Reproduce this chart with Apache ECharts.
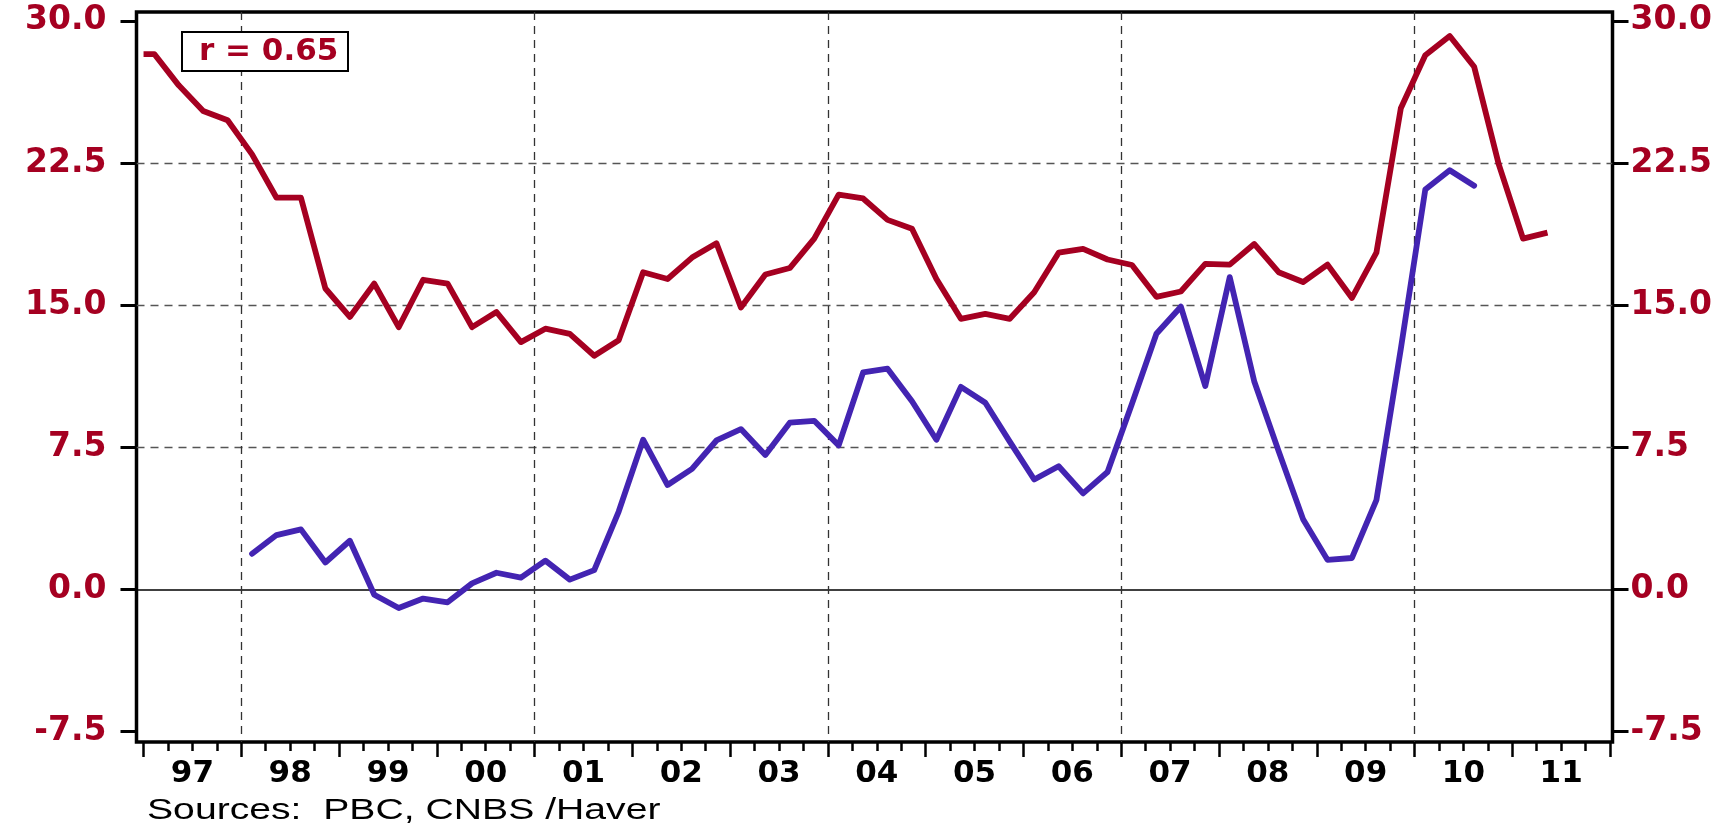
<!DOCTYPE html>
<html><head><meta charset="utf-8">
<script src="https://cdn.jsdelivr.net/npm/echarts@6/dist/echarts.min.js"></script>
<style>html,body{margin:0;padding:0;background:#fff}#c{width:1735px;height:830px}</style>
</head><body><div id="c"></div>
<script>
// ---- data (quarterly observations) ----
const yearLabels = ['97','98','99','00','01','02','03','04','05','06','07','08','09','10','11'];
const firstYear = 1997, lastYear = 2012;
const yTicks = [-7.5, 0, 7.5, 15, 22.5, 30];
const yDashed = [7.5, 15, 22.5];
const gridYears = [1998, 2001, 2004, 2007, 2010];

const redStartYear = 1997;     // first quarterly value: 1997Q1
const redOpening = 28.25;      // value at the very start of 1997
const redValues = [28.25, 26.6, 25.25, 24.76, 22.96, 20.67, 20.67, 15.88, 14.38, 16.14,
  13.84, 16.34, 16.14, 13.84, 14.64, 13.05, 13.76, 13.49, 12.33, 13.15,
  16.74, 16.38, 17.51, 18.27, 14.88, 16.62, 16.96, 18.51, 20.83, 20.63,
  19.5, 19.03, 16.38, 14.28, 14.54, 14.28, 15.68, 17.77, 17.97, 17.41,
  17.12, 15.44, 15.72, 17.18, 17.14, 18.23, 16.74, 16.22, 17.14, 15.38,
  17.77, 25.39, 28.19, 29.2, 27.58, 22.46, 18.51, 18.83];

const blueStartYear = 1998;    // first quarterly value: 1998Q1
const blueValues = [1.88, 2.87, 3.17, 1.42, 2.57, -0.28, -0.98, -0.48, -0.68, 0.32,
  0.88, 0.62, 1.52, 0.52, 1.02, 4.11, 7.9, 5.51, 6.36, 7.86,
  8.46, 7.1, 8.8, 8.9, 7.6, 11.45, 11.65, 9.93, 7.9, 10.69,
  9.85, 7.8, 5.8, 6.5, 5.07, 6.2, 9.8, 13.49, 14.92, 10.73,
  16.48, 10.99, 7.3, 3.71, 1.56, 1.66, 4.71, 12.7, 21.1, 22.12, 21.3];

const corrText = 'r = 0.65';
const sourceText = 'Sources:  PBC, CNBS /Haver';

// ---- helpers ----
const RED = '#A50021', BLUE = '#4324B2';
function qTime(startYear, i) { return startYear + i / 4 + 0.11; }
const redData = [[redStartYear, redOpening]].concat(redValues.map((v, i) => [qTime(redStartYear, i), v]));
const blueData = blueValues.map((v, i) => [qTime(blueStartYear, i), v]);

const quarterTicks = [], yearTicks = [], yearLabelPos = [];
for (let y = firstYear; y <= lastYear; y++) {
  yearTicks.push(y);
  if (y < lastYear) {
    for (let q = 0; q < 4; q++) quarterTicks.push(y + q / 4);
    yearLabelPos.push(y + 0.5);
  }
}

const X_MIN = 1996.928, X_MAX = 2012.025, Y_MIN = -8.05, Y_MAX = 30.47;
const yLabelFont = { fontFamily: 'DejaVu Sans', fontWeight: 'bold', fontSize: 33 };
const xLabelFont = { fontFamily: 'DejaVu Sans', fontWeight: 'bold', fontSize: 31 };

function xBase(extra) {
  return Object.assign({
    type: 'value', min: X_MIN, max: X_MAX, position: 'bottom', gridIndex: 0,
    axisLine: { show: false, onZero: false },
    axisTick: { show: false }, axisLabel: { show: false }, splitLine: { show: false }
  }, extra);
}
function yBase(extra) {
  return Object.assign({
    type: 'value', min: Y_MIN, max: Y_MAX, position: 'left', gridIndex: 0,
    axisLine: { show: false, onZero: false },
    axisTick: { show: false }, axisLabel: { show: false }, splitLine: { show: false }
  }, extra);
}

const chart = echarts.init(document.getElementById('c'), null, { renderer: 'canvas' });
chart.setOption({
  animation: false,
  backgroundColor: '#fff',
  title: {
    text: corrText, left: 182, top: 32,
    padding: [4, 10, 4, 17], borderColor: '#000', borderWidth: 2, backgroundColor: '#fff',
    textStyle: { color: RED, fontFamily: 'DejaVu Sans', fontWeight: 'bold', fontSize: 31 }
  },
  grid: [{ left: 136.5, top: 12, width: 1476, height: 730, show: true,
    borderColor: '#000', borderWidth: 3.5, backgroundColor: 'transparent', containLabel: false }],
  xAxis: [
    xBase({}),
    xBase({ axisTick: { show: true, customValues: quarterTicks, length: 9, lineStyle: { color: '#000', width: 2.5 } } }),
    xBase({
      axisTick: { show: true, customValues: yearTicks, length: 15, lineStyle: { color: '#000', width: 2.5 } },
      axisLabel: { show: true, customValues: yearLabelPos, margin: 16, color: '#000', ...xLabelFont,
        formatter: v => yearLabels[Math.floor(v) - firstYear] }
    }),
    xBase({ axisTick: { show: false, customValues: gridYears },
      splitLine: { show: true, lineStyle: { color: '#333', width: 1.3, type: [8, 6] } } })
  ],
  yAxis: [
    yBase({
      axisTick: { show: true, customValues: yTicks, length: 16, lineStyle: { color: '#000', width: 3 } },
      axisLabel: { show: true, customValues: yTicks, margin: 30, color: RED, ...yLabelFont,
        padding: [8, 0, 0, 0], formatter: v => v.toFixed(1) }
    }),
    yBase({ position: 'right',
      axisTick: { show: true, customValues: yTicks, length: 16, lineStyle: { color: '#000', width: 3 } },
      axisLabel: { show: true, customValues: yTicks, margin: 18, color: RED, ...yLabelFont,
        padding: [8, 0, 0, 0], formatter: v => v.toFixed(1) }
    }),
    yBase({ axisTick: { show: false, customValues: yDashed },
      splitLine: { show: true, lineStyle: { color: '#555', width: 1.3, type: [8, 6] } } }),
    yBase({ axisTick: { show: false, customValues: [0] },
      splitLine: { show: true, lineStyle: { color: '#000', width: 1.5, type: 'solid' } } })
  ],
  graphic: [{
    type: 'text', x: 147, y: 811, scaleX: 1.35, silent: true,
    style: { text: sourceText, fill: '#000', font: '29px "Liberation Sans"',
      textAlign: 'left', textVerticalAlign: 'middle', align: 'left', verticalAlign: 'middle' }
  }],
  series: [
    { type: 'line', name: 'blue', xAxisIndex: 0, yAxisIndex: 0, data: blueData, showSymbol: false,
      symbol: 'none', lineStyle: { color: BLUE, width: 5.8, join: 'round', cap: 'round' }, z: 3 },
    { type: 'line', name: 'red', xAxisIndex: 0, yAxisIndex: 0, data: redData, showSymbol: false,
      symbol: 'none', lineStyle: { color: RED, width: 5.8, join: 'round' }, z: 4 }
  ]
});
</script></body></html>
